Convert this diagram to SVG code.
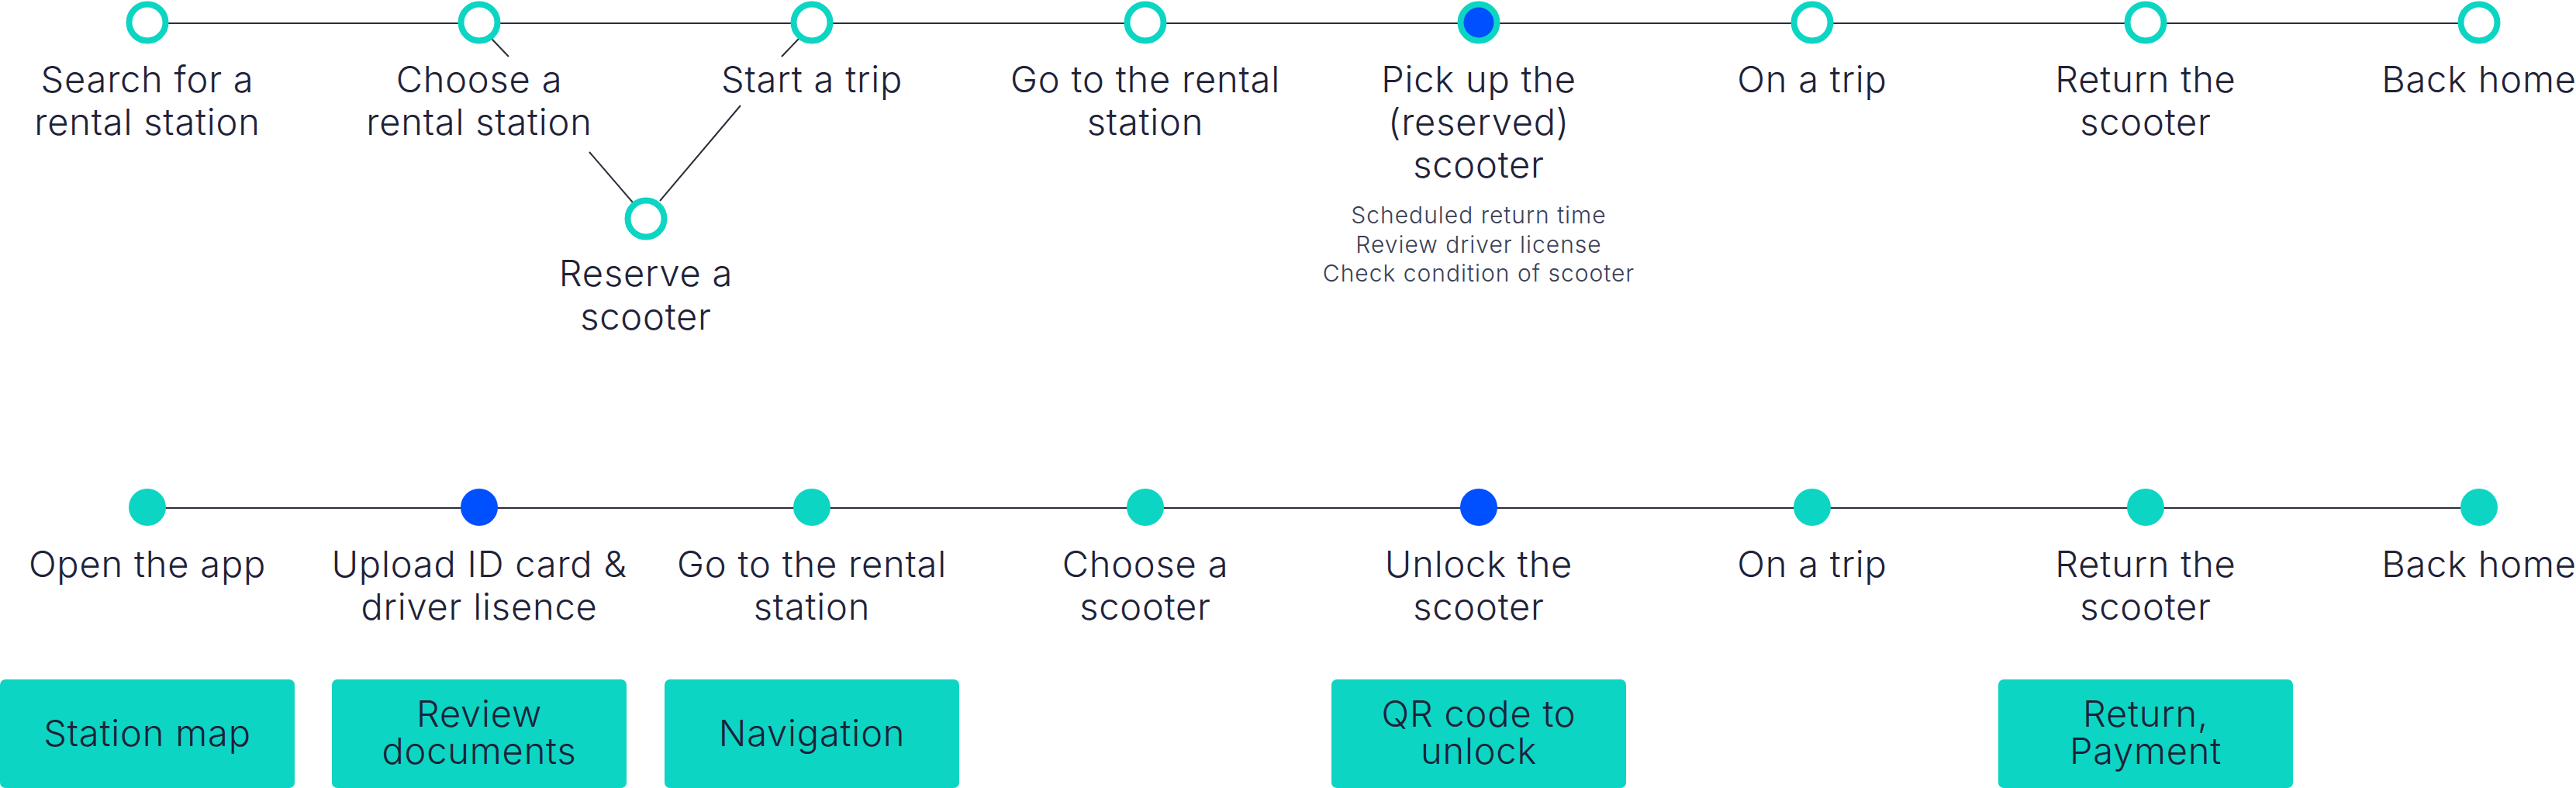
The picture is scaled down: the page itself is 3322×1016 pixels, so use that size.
<svg xmlns="http://www.w3.org/2000/svg" width="3322" height="1016" viewBox="0 0 3322 1016">
<style>
.lbl{font-family:Inter,"Noto Sans","Liberation Sans",sans-serif;font-weight:300;font-size:47px;letter-spacing:0.8px;fill:#1e2238;text-anchor:middle}
.sub{font-family:Inter,"Noto Sans","Liberation Sans",sans-serif;font-weight:300;font-size:30px;letter-spacing:1px;fill:#3a3f56;text-anchor:middle}
.box{fill:#0dd5c3}
.ring{fill:#ffffff;stroke:#0dd5c3;stroke-width:8}
.ringb{fill:#0050ff;stroke:#0dd5c3;stroke-width:8}
.dot{fill:#0dd5c3}
.dotb{fill:#0050ff}
.ln{stroke:#2a2d3a;stroke-width:2;fill:none}
</style>
<rect width="3322" height="1016" fill="#ffffff"/>
<g id="connectors">
<line class="ln" x1="190" y1="30" x2="3197" y2="30"/>
<line class="ln" x1="190" y1="655" x2="3197" y2="655"/>
<path class="ln" d="M634 50 L656 73 M760 196 L816 261"/>
<path class="ln" d="M851 259 L955 136 M1008 73 L1030 50"/>
</g>
<g id="t1"><circle class="ring" cx="190" cy="29" r="23.5"/><text class="lbl" x="190" y="119">Search for a</text><text class="lbl" x="190" y="174">rental station</text></g>
<g id="t2"><circle class="ring" cx="618" cy="29" r="23.5"/><text class="lbl" x="618" y="119">Choose a</text><text class="lbl" x="618" y="174">rental station</text></g>
<g id="t2b"><circle class="ring" cx="833" cy="282" r="23.5"/><text class="lbl" x="833" y="369">Reserve a</text><text class="lbl" x="833" y="425">scooter</text></g>
<g id="t3"><circle class="ring" cx="1047" cy="29" r="23.5"/><text class="lbl" x="1047" y="119">Start a trip</text></g>
<g id="t4"><circle class="ring" cx="1477" cy="29" r="23.5"/><text class="lbl" x="1477" y="119">Go to the rental</text><text class="lbl" x="1477" y="174">station</text></g>
<g id="t5"><circle class="ringb" cx="1907" cy="29" r="23.5"/><text class="lbl" x="1907" y="119">Pick up the</text><text class="lbl" x="1907" y="174">(reserved)</text><text class="lbl" x="1907" y="229">scooter</text>
<text class="sub" x="1907" y="288">Scheduled return time</text><text class="sub" x="1907" y="326">Review driver license</text><text class="sub" x="1907" y="363">Check condition of scooter</text></g>
<g id="t6"><circle class="ring" cx="2337" cy="29" r="23.5"/><text class="lbl" x="2337" y="119">On a trip</text></g>
<g id="t7"><circle class="ring" cx="2767" cy="29" r="23.5"/><text class="lbl" x="2767" y="119">Return the</text><text class="lbl" x="2767" y="174">scooter</text></g>
<g id="t8"><circle class="ring" cx="3197" cy="29" r="23.5"/><text class="lbl" x="3197" y="119">Back home</text></g>

<g id="b1"><circle class="dot" cx="190" cy="654" r="24"/><text class="lbl" x="190" y="744">Open the app</text></g>
<g id="b2"><circle class="dotb" cx="618" cy="654" r="24"/><text class="lbl" x="618" y="744">Upload ID card &amp;</text><text class="lbl" x="618" y="799">driver lisence</text></g>
<g id="b3"><circle class="dot" cx="1047" cy="654" r="24"/><text class="lbl" x="1047" y="744">Go to the rental</text><text class="lbl" x="1047" y="799">station</text></g>
<g id="b4"><circle class="dot" cx="1477" cy="654" r="24"/><text class="lbl" x="1477" y="744">Choose a</text><text class="lbl" x="1477" y="799">scooter</text></g>
<g id="b5"><circle class="dotb" cx="1907" cy="654" r="24"/><text class="lbl" x="1907" y="744">Unlock the</text><text class="lbl" x="1907" y="799">scooter</text></g>
<g id="b6"><circle class="dot" cx="2337" cy="654" r="24"/><text class="lbl" x="2337" y="744">On a trip</text></g>
<g id="b7"><circle class="dot" cx="2767" cy="654" r="24"/><text class="lbl" x="2767" y="744">Return the</text><text class="lbl" x="2767" y="799">scooter</text></g>
<g id="b8"><circle class="dot" cx="3197" cy="654" r="24"/><text class="lbl" x="3197" y="744">Back home</text></g>

<g id="f1"><rect class="box" x="0" y="876" width="380" height="140" rx="7"/><text class="lbl" x="190" y="962">Station map</text></g>
<g id="f2"><rect class="box" x="428" y="876" width="380" height="140" rx="7"/><text class="lbl" x="618" y="937">Review</text><text class="lbl" x="618" y="985">documents</text></g>
<g id="f3"><rect class="box" x="857" y="876" width="380" height="140" rx="7"/><text class="lbl" x="1047" y="962">Navigation</text></g>
<g id="f5"><rect class="box" x="1717" y="876" width="380" height="140" rx="7"/><text class="lbl" x="1907" y="937">QR code to</text><text class="lbl" x="1907" y="985">unlock</text></g>
<g id="f7"><rect class="box" x="2577" y="876" width="380" height="140" rx="7"/><text class="lbl" x="2767" y="937">Return,</text><text class="lbl" x="2767" y="985">Payment</text></g>
</svg>
